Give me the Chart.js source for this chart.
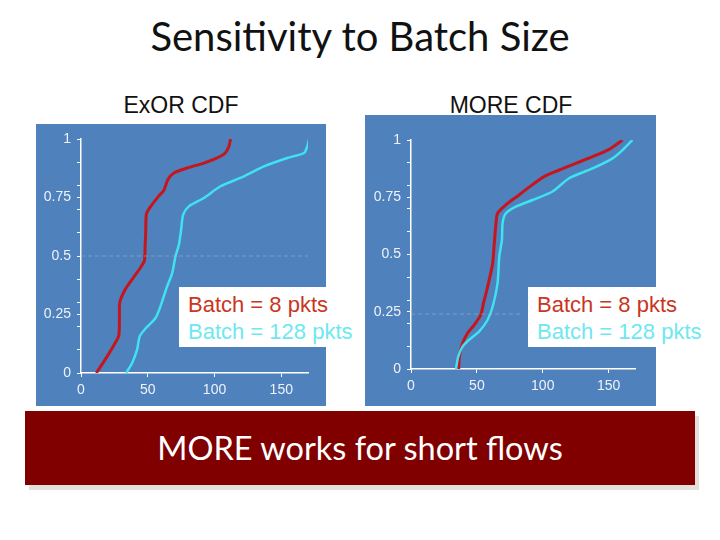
<!DOCTYPE html>
<html>
<head>
<meta charset="utf-8">
<script src="https://cdn.jsdelivr.net/npm/chart.js@4.4.0/dist/chart.umd.min.js"></script>
<style>
  body { margin: 0; width: 720px; height: 540px; background: #fff; position: relative; overflow: hidden; font-family: "Liberation Sans", Arial, sans-serif; }
  .abs { position: absolute; }
  #title { left: 0; width: 720px; top: 16px; text-align: center; font-family: Lato, "Open Sans", sans-serif; font-size: 40px; line-height: 40px; color: #111; }
  .sub { top: 94px; font-size: 23px; line-height: 23px; color: #111; text-align: center; width: 200px; }
  .panel { background: #4f81bd; }
  .legend { background: #fff; padding: 4px 0 0 9px; font-size: 22px; line-height: 27px; white-space: nowrap; }
  .leg8 { color: #c8361e; }
  .leg128 { color: #6ee8f0; }
  #shadow { left: 29px; top: 416px; width: 670px; height: 74px; background: #e3e1da; }
  #banner { left: 25px; top: 411px; width: 670px; height: 74px; background: #800000; color: #fff; text-align: center; font-family: Lato, "Open Sans", sans-serif; font-size: 32.5px; line-height: 74px; }
</style>
</head>
<body>
<div id="title" class="abs">Sensitivity to Batch Size</div>
<div class="abs sub" style="left:81px;">ExOR CDF</div>
<div class="abs sub" style="left:411px;">MORE CDF</div>

<div class="abs panel" style="left:36px; top:124px; width:290px; height:282px;">
  <canvas id="exorChart" width="290" height="282"></canvas>
</div>
<div class="abs panel" style="left:365px; top:115px; width:291px; height:291px;">
  <canvas id="moreChart" width="291" height="291"></canvas>
</div>

<div class="abs legend" style="left:179px; top:287px; width:172px; height:56px;">
  <div class="leg8">Batch = 8 pkts</div>
  <div class="leg128">Batch = 128 pkts</div>
</div>
<div class="abs legend" style="left:528px; top:287px; width:174px; height:56px;">
  <div class="leg8">Batch = 8 pkts</div>
  <div class="leg128">Batch = 128 pkts</div>
</div>

<div id="shadow" class="abs"></div>
<div id="banner" class="abs">MORE works for short flows</div>

<script>
// tick values
const xTicks = [0, 50, 100, 150];
const yTicks = [0, 0.1, 0.2, 0.25, 0.3, 0.4, 0.5, 0.6, 0.7, 0.75, 0.8, 0.9, 1];
const yLabelled = [0, 0.25, 0.5, 0.75, 1];

// ExOR CDF, batch = 8
const exor8X = [11.5, 19.5, 25.8, 28.3, 28.8, 29, 33, 39.5, 44.5, 47.5, 48, 48.5, 49, 52, 58, 62, 65, 69.5, 79.5, 92, 102, 108, 110.8, 112];
const exor8Y = [0, 0.07, 0.13, 0.16, 0.23, 0.30, 0.356, 0.41, 0.45, 0.48, 0.54, 0.61, 0.68, 0.71, 0.755, 0.78, 0.826, 0.855, 0.876, 0.897, 0.919, 0.94, 0.969, 1];
// ExOR CDF, batch = 128
const exor128X = [33.8, 38.3, 42, 44, 48.3, 55.8, 59.5, 64.5, 68.3, 70.8, 73.3, 75, 76.5, 80.8, 92, 104.5, 122, 137, 154.5, 167, 169.5, 170.8];
const exor128Y = [0, 0.043, 0.10, 0.157, 0.19, 0.235, 0.285, 0.37, 0.427, 0.50, 0.548, 0.613, 0.677, 0.712, 0.748, 0.798, 0.84, 0.883, 0.919, 0.94, 0.969, 1];

// MORE CDF, batch = 8
const more8X = [36.2, 36.7, 39.2, 43, 48, 53, 55, 57, 59.4, 62, 63.2, 64.5, 65.7, 72, 82, 92, 101, 112.5, 125, 137.8, 150.4, 160.5];
const more8Y = [0, 0.055, 0.113, 0.157, 0.193, 0.237, 0.288, 0.331, 0.39, 0.462, 0.549, 0.637, 0.68, 0.717, 0.76, 0.804, 0.84, 0.869, 0.898, 0.927, 0.959, 1];
// MORE CDF, batch = 128
const more128X = [34.1, 35.9, 39.2, 44.2, 51.8, 58.2, 62, 65.7, 67, 69, 69.5, 72, 79.6, 92.3, 107.4, 120, 137.8, 153, 160.5, 168];
const more128Y = [0, 0.055, 0.099, 0.128, 0.164, 0.215, 0.273, 0.375, 0.491, 0.564, 0.637, 0.68, 0.709, 0.738, 0.775, 0.833, 0.876, 0.92, 0.956, 1];

// faint dashed reference lines seen in the plots
const exorRefX = [0, 170];
const exorRefY = [0.5, 0.5];
const moreRefX = [0, 85];
const moreRefY = [0.24, 0.24];

function zip(xs, ys) {
    return xs.map(function(x, i) { return { x: x, y: ys[i] }; });
}

function makeChart(id, s8, s128, ref, pad, yWidth, xHeight) {
    const ctx = document.getElementById(id).getContext('2d');
    return new Chart(ctx, {
        type: 'line',
        data: {
            datasets: [
                { label: 'ref', data: ref, borderColor: 'rgba(170,180,190,0.55)', borderWidth: 1, borderDash: [4, 3], pointRadius: 0 },
                { label: 'Batch = 128 pkts', data: s128, borderColor: '#3fe3f0', borderWidth: 2.5, pointRadius: 0, tension: 0.25 },
                { label: 'Batch = 8 pkts', data: s8, borderColor: '#c4161c', borderWidth: 3, pointRadius: 0, tension: 0.25 }
            ]
        },
        options: {
            responsive: false,
            animation: false,
            layout: { padding: pad },
            plugins: { legend: { display: false }, tooltip: { enabled: false } },
            scales: {
                x: {
                    type: 'linear', min: 0, max: 170,
                    afterBuildTicks: function(s) { s.ticks = xTicks.map(function(v) { return { value: v }; }); },
                    afterFit: function(s) { s.height = xHeight; },
                    border: { color: '#ffffff', width: 1.5 },
                    grid: { drawOnChartArea: false, color: '#ffffff', tickLength: 4 },
                    ticks: { color: '#eef2f8', font: { family: 'Liberation Sans', size: 14 }, padding: 5, maxRotation: 0, autoSkip: false }
                },
                y: {
                    type: 'linear', min: 0, max: 1,
                    afterBuildTicks: function(s) { s.ticks = yTicks.map(function(v) { return { value: v }; }); },
                    afterFit: function(s) { s.width = yWidth; },
                    border: { color: '#ffffff', width: 1.5 },
                    grid: { drawOnChartArea: false, color: '#ffffff', tickLength: 4 },
                    ticks: {
                        color: '#eef2f8', font: { family: 'Liberation Sans', size: 14 }, padding: 6, autoSkip: false,
                        callback: function(v) { return yLabelled.indexOf(v) >= 0 ? String(v) : ''; }
                    }
                }
            }
        }
    });
}

makeChart('exorChart', zip(exor8X, exor8Y), zip(exor128X, exor128Y), zip(exorRefX, exorRefY),
    { top: 15, right: 18, left: 0, bottom: 0 }, 45, 33);
makeChart('moreChart', zip(more8X, more8Y), zip(more128X, more128Y), zip(moreRefX, moreRefY),
    { top: 25, right: 21, left: 0, bottom: 0 }, 46, 37);
</script>
</body>
</html>
